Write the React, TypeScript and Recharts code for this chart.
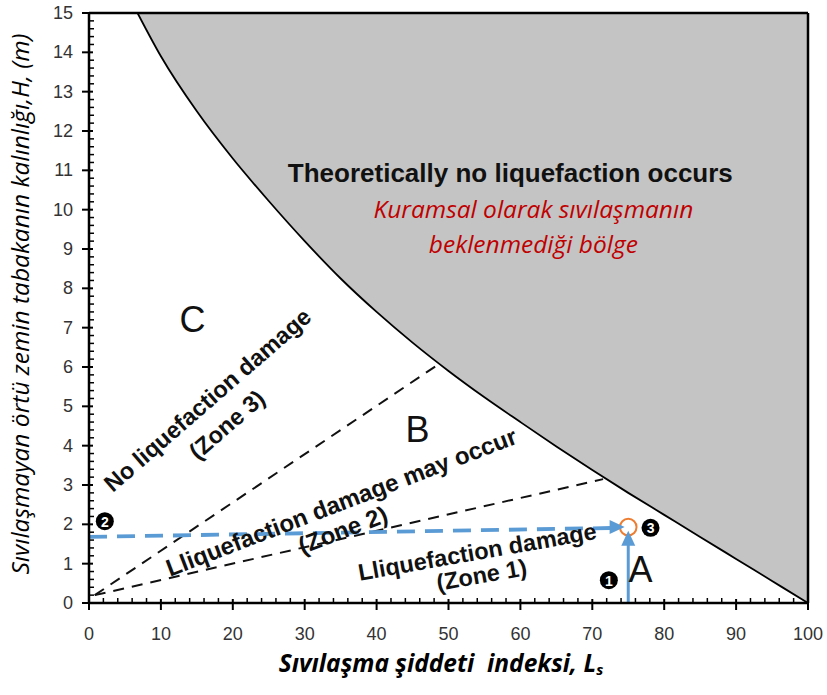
import React from 'react'
import {
  ComposedChart,
  Area,
  Line,
  XAxis,
  YAxis,
  ReferenceLine,
  ReferenceDot,
} from 'recharts'

// boundary of the "no liquefaction" zone (Ls, H)
const curveX = [6.75, 10, 15, 20, 25, 30, 35, 40, 45, 50, 55, 60, 65, 70, 75, 80, 85, 90, 95, 100]
const curveH = [15, 13.9, 12.5, 11.3, 10.22, 9.2, 8.25, 7.4, 6.62, 5.9, 5.23, 4.6, 3.98, 3.38, 2.8, 2.24, 1.68, 1.12, 0.56, 0]

// dashed zone borders
const zone3BorderX = [0.8, 48.7]
const zone3BorderH = [0.2, 6.08]
const zone1BorderX = [0.8, 71.5]
const zone1BorderH = [0.2, 3.15]

// blue reading path
const pathX = [0, 73.5]
const pathH = [1.68, 1.91]
const riseX = [75, 75]
const riseH = [0, 1.6]
const pointLs = 75
const pointH = 1.93

const xTicks = Array.from({ length: 51 }, (_, i) => i * 2)
const yTicks = Array.from({ length: 76 }, (_, i) => Math.round(i * 2) / 10)

const toRows = (xs: number[], hs: number[]) => xs.map((x, i) => ({ x, h: hs[i] }))

const curveData = toRows(curveX, curveH)

const isInt = (v: number) => Math.abs(v - Math.round(v)) < 1e-6

function XTick({ x, y, payload }: any) {
  const v = payload.value
  const major = v % 10 === 0
  return (
    <g>
      {major ? (
        <line x1={x} x2={x} y1={y - 4} y2={y + 7} stroke="#000" strokeWidth={2} />
      ) : (
        <line x1={x} x2={x} y1={y} y2={y - 5} stroke="#000" strokeWidth={1.5} />
      )}
      {major && (
        <text x={x} y={y + 31} textAnchor="middle" dominantBaseline="central" fontSize={18} fill="#333" fontFamily="Liberation Sans">
          {v}
        </text>
      )}
    </g>
  )
}

function YTick({ x, y, payload }: any) {
  const v = payload.value
  const major = isInt(v)
  return (
    <g>
      {major ? (
        <line x1={x - 7} x2={x + 4} y1={y} y2={y} stroke="#000" strokeWidth={2} />
      ) : (
        <line x1={x} x2={x + 5} y1={y} y2={y} stroke="#000" strokeWidth={1.5} />
      )}
      {major && (
        <text x={x - 16} y={y} textAnchor="end" dominantBaseline="central" fontSize={18} fill="#333" fontFamily="Liberation Sans">
          {Math.round(v)}
        </text>
      )}
    </g>
  )
}

const textAt = (text: string, angle: number, size: number, weight: string, fill = '#111', family = 'Liberation Sans', style = 'normal') =>
  (p: any) => (
    <text
      x={p.cx}
      y={p.cy}
      transform={`rotate(${angle} ${p.cx} ${p.cy})`}
      textAnchor="middle"
      dominantBaseline="central"
      fontSize={size}
      fontWeight={weight}
      fontStyle={style}
      fontFamily={family}
      fill={fill}
    >
      {text}
    </text>
  )

const badge = (n: string) => (p: any) => (
  <g>
    <circle cx={p.cx} cy={p.cy} r={9} fill="#000" />
    <text x={p.cx} y={p.cy + 0.5} textAnchor="middle" dominantBaseline="central" fontSize={14} fontWeight="bold" fill="#fff" fontFamily="Liberation Sans">
      {n}
    </text>
  </g>
)

const arrowHead = (dir: 'right' | 'up') => (p: any) => {
  const { cx, cy } = p
  const pts =
    dir === 'right'
      ? `${cx},${cy} ${cx - 15},${cy - 7} ${cx - 15},${cy + 7}`
      : `${cx},${cy} ${cx - 7},${cy + 15} ${cx + 7},${cy + 15}`
  return <polygon points={pts} fill="#5b9bd5" />
}

const ring = (p: any) => <circle cx={p.cx} cy={p.cy} r={8.3} fill="none" stroke="#ed7d31" strokeWidth={2} />

export default function App() {
  return (
    <div style={{ position: 'absolute', left: 0, top: 0, background: '#fff' }}>
      <ComposedChart width={827} height={695} data={curveData} margin={{ top: 13, right: 19, left: 0, bottom: 0 }}>
        <XAxis
          type="number"
          dataKey="x"
          domain={[0, 100]}
          ticks={xTicks}
          interval={0}
          tickSize={0}
          tickMargin={0}
          tickLine={false}
          tick={<XTick />}
          axisLine={{ stroke: '#000', strokeWidth: 2.5 }}
          height={92}
          allowDataOverflow
          label={{
            content: () => (
              <text x={441} y={662} textAnchor="middle" dominantBaseline="central" fontSize={24.5} fontWeight="bold" fontStyle="italic" fontFamily="Open Sans" fill="#000">
                {'Sıvılaşma şiddeti\u00A0\u00A0indeksi, L'}
                <tspan fontSize={15} dy={7}>s</tspan>
              </text>
            ),
          }}
        />
        <YAxis
          type="number"
          domain={[0, 15]}
          ticks={yTicks}
          interval={0}
          tickSize={0}
          tickMargin={0}
          tickLine={false}
          tick={<YTick />}
          axisLine={{ stroke: '#000', strokeWidth: 2.5 }}
          width={89}
          allowDataOverflow
          label={{
            content: () => (
              <text x={19} y={304} transform="rotate(-90 19 304)" textAnchor="middle" dominantBaseline="central" fontSize={24.5} fontStyle="italic" fontFamily="Open Sans" fill="#000">
                Sıvılaşmayan örtü zemin tabakanın kalınlığı,H, (m)
              </text>
            ),
          }}
        />
        <Area
          type="monotone"
          dataKey="h"
          baseValue={15}
          fill="#c4c4c4"
          fillOpacity={1}
          stroke="#000"
          strokeWidth={1.8}
          dot={false}
          activeDot={false}
          isAnimationActive={false}
        />
        <ReferenceLine y={15} stroke="#000" strokeWidth={2.5} />
        <ReferenceLine x={100} stroke="#000" strokeWidth={2.5} />
        <Line data={toRows(zone3BorderX, zone3BorderH)} dataKey="h" stroke="#111" strokeWidth={2} strokeDasharray="11 8" dot={false} activeDot={false} isAnimationActive={false} />
        <Line data={toRows(zone1BorderX, zone1BorderH)} dataKey="h" stroke="#111" strokeWidth={2} strokeDasharray="11 8" dot={false} activeDot={false} isAnimationActive={false} />

        <ReferenceDot x={14.4} y={7.2} shape={textAt('C', 0, 36, 'normal')} />
        <ReferenceDot x={45.7} y={4.4} shape={textAt('B', 0, 36, 'normal')} />
        <ReferenceDot x={76.7} y={0.84} shape={textAt('A', 0, 36, 'normal')} />
        <ReferenceDot x={58.6} y={10.94} shape={textAt('Theoretically no liquefaction occurs', 0, 26, 'bold')} />
        <ReferenceDot x={61.8} y={10.04} shape={textAt('Kuramsal olarak sıvılaşmanın', 0, 24.5, 'normal', '#c00000', 'Open Sans', 'italic')} />
        <ReferenceDot x={61.8} y={9.15} shape={textAt('beklenmediği bölge', 0, 24.5, 'normal', '#c00000', 'Open Sans', 'italic')} />
        <ReferenceDot x={16.5} y={5.16} shape={textAt('No liquefaction damage', -41, 23.5, 'bold')} />
        <ReferenceDot x={19.2} y={4.53} shape={textAt('(Zone 3)', -41, 23.5, 'bold')} />
        <ReferenceDot x={35.1} y={2.57} shape={textAt('Lliquefaction damage may occur', -21, 24, 'bold')} />
        <ReferenceDot x={35.3} y={1.86} shape={textAt('(Zone 2)', -21, 24, 'bold')} />
        <ReferenceDot x={54.0} y={1.3} shape={textAt('Lliquefaction damage', -10, 23.5, 'bold')} />
        <ReferenceDot x={54.6} y={0.71} shape={textAt('(Zone 1)', -10, 23.5, 'bold')} />

        <Line data={toRows(pathX, pathH)} dataKey="h" stroke="#5b9bd5" strokeWidth={3.8} strokeDasharray="18 10" dot={false} activeDot={false} isAnimationActive={false} />
        <Line data={toRows(riseX, riseH)} dataKey="h" stroke="#5b9bd5" strokeWidth={3} dot={false} activeDot={false} isAnimationActive={false} />
        <ReferenceDot x={pointLs} y={pointH} shape={ring} />
        <ReferenceDot x={74.5} y={pointH} shape={arrowHead('right')} />
        <ReferenceDot x={pointLs} y={1.84} shape={arrowHead('up')} />

        <ReferenceDot x={2.2} y={2.08} shape={badge('2')} />
        <ReferenceDot x={78.1} y={1.91} shape={badge('3')} />
        <ReferenceDot x={72.3} y={0.58} shape={badge('1')} />
      </ComposedChart>
    </div>
  )
}
